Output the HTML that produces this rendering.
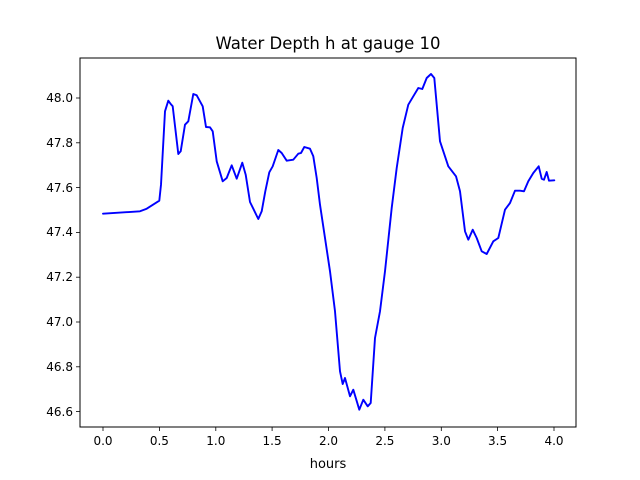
<!DOCTYPE html><html><head><style>body{margin:0;background:#fff}svg{display:block}text{font-family:"DejaVu Sans","Liberation Sans",sans-serif;fill:#000}</style></head><body>
<svg width="640" height="480" viewBox="0 0 640 480">
<rect x="80" y="58" width="496" height="369" fill="#fff" stroke="#000" stroke-width="1"/>
<text x="328" y="49" font-size="16.5" text-anchor="middle">Water Depth h at gauge 10</text>
<text x="328" y="468" font-size="13" text-anchor="middle">hours</text>
<g stroke="#000" stroke-width="0.8">
<line x1="103" y1="427" x2="103" y2="431"/><line x1="159.4" y1="427" x2="159.4" y2="431"/><line x1="215.8" y1="427" x2="215.8" y2="431"/><line x1="272.1" y1="427" x2="272.1" y2="431"/><line x1="328.5" y1="427" x2="328.5" y2="431"/><line x1="384.9" y1="427" x2="384.9" y2="431"/><line x1="441.3" y1="427" x2="441.3" y2="431"/><line x1="497.6" y1="427" x2="497.6" y2="431"/><line x1="554" y1="427" x2="554" y2="431"/>
<line x1="76" y1="98" x2="80" y2="98"/><line x1="76" y1="142.8" x2="80" y2="142.8"/><line x1="76" y1="187.6" x2="80" y2="187.6"/><line x1="76" y1="232.4" x2="80" y2="232.4"/><line x1="76" y1="277.2" x2="80" y2="277.2"/><line x1="76" y1="322" x2="80" y2="322"/><line x1="76" y1="366.8" x2="80" y2="366.8"/><line x1="76" y1="411.6" x2="80" y2="411.6"/>
</g>
<g font-size="12" text-anchor="middle">
<text x="103" y="445">0.0</text><text x="159.4" y="445">0.5</text><text x="215.8" y="445">1.0</text><text x="272.1" y="445">1.5</text><text x="328.5" y="445">2.0</text><text x="384.9" y="445">2.5</text><text x="441.3" y="445">3.0</text><text x="497.6" y="445">3.5</text><text x="554" y="445">4.0</text>
</g>
<g font-size="12" text-anchor="end">
<text x="73" y="102">48.0</text><text x="73" y="147">47.8</text><text x="73" y="192">47.6</text><text x="73" y="236">47.4</text><text x="73" y="281">47.2</text><text x="73" y="326">47.0</text><text x="73" y="371">46.8</text><text x="73" y="416">46.6</text>
</g>
<polyline fill="none" stroke="#0000ff" stroke-width="1.9" stroke-linejoin="round" stroke-linecap="round" points="103,213.7 140,211.3 146.7,208.7 159.3,200.7 161,184.7 165,111.3 168.3,100.7 170.7,104 172.7,106.3 178.3,154 180.7,151.3 185,124.7 188.3,121.3 193.3,94 196.7,95.3 202.7,106.3 206,127 210,127.3 212.7,131.3 216.7,161.3 222.7,181.3 226.7,178 231.7,165.3 236.7,178.7 242.3,162.7 245.7,174.7 250,202 253.3,208.7 258.3,219 261.7,211.3 265.3,191.3 269.3,172.3 272.7,166.3 278.3,150 281.7,153 286.7,160.7 293.3,159.7 298.3,153.7 301,153 304.3,147 310,148.7 313.3,156.3 316.7,178 320,204.7 330,271.3 335,311.3 340,371.3 342.7,384 345,378 350,396.3 353.3,389.7 359.3,409.7 363.3,399.7 367.7,406.3 370.7,403 375,338 380,311.3 385,271.3 391.7,208 396.7,168 402.7,128 408.3,104.7 413.3,96.3 418.3,88 422.3,89 426.7,78 431,74 434.3,78 440,141.3 448.3,166.3 456,176.3 460,191.3 465,231.3 468.3,239.7 472.7,229.7 476.7,238 481.7,251.3 486.7,254 493.3,241.3 498.3,238 505,209.7 510,203 515,190.7 520,190.7 524,191.3 528.3,181.3 533.3,173 538.7,166.3 541.7,178.7 544,179.7 546.7,172 549,180.7 554.3,180.3"/>
</svg></body></html>
